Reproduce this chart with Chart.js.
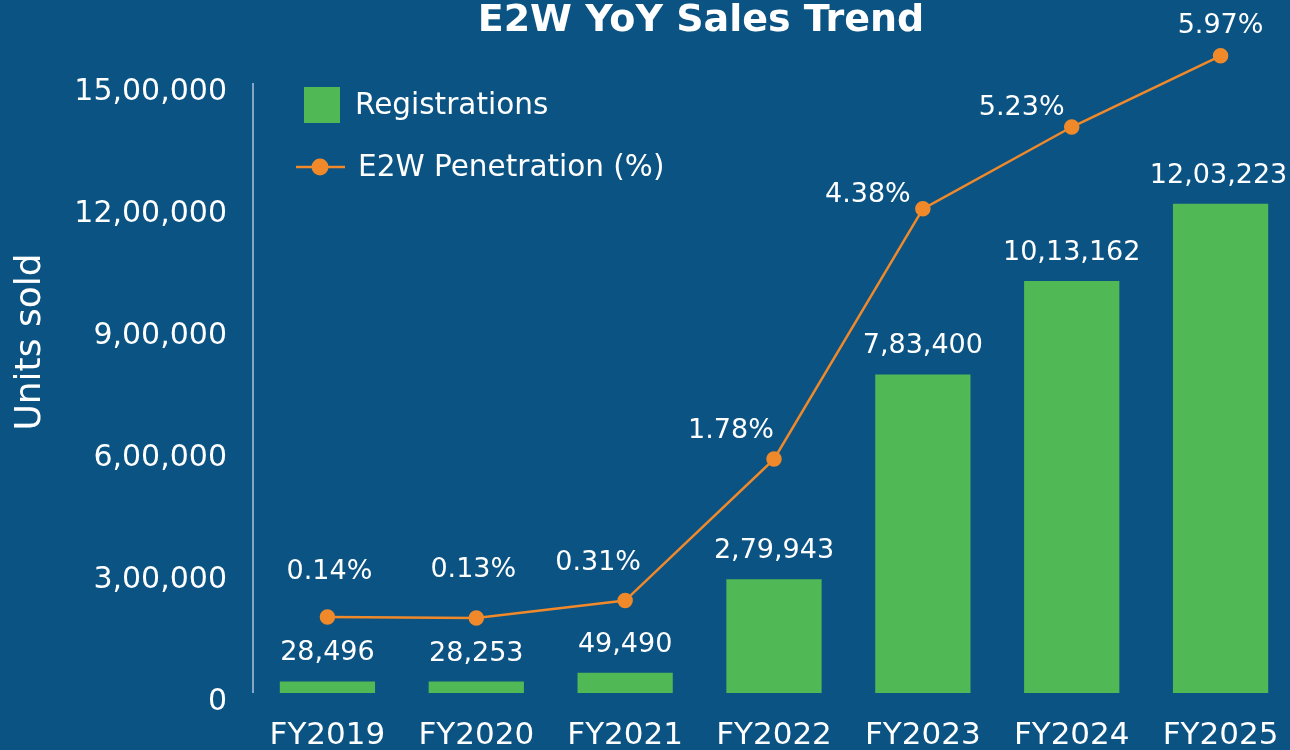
<!DOCTYPE html>
<html>
<head>
<meta charset="utf-8">
<script src="https://cdn.jsdelivr.net/npm/chart.js@4.4.1/dist/chart.umd.min.js"></script>
<style>
    html, body { margin: 0; padding: 0; background: #0B5383; overflow: hidden; }
    #wrap { width: 1290px; height: 750px; overflow: hidden; position: relative; }
    #wrap canvas { position: absolute; left: 0; top: 0; }
</style>
</head>
<body>
<div id="wrap"><canvas id="myChart" width="1304" height="790" style="width:1304px;height:790px"></canvas></div>
<script>
// datos del gráfico
const categories = ['FY2019', 'FY2020', 'FY2021', 'FY2022', 'FY2023', 'FY2024', 'FY2025'];
const registrations = [28496, 28253, 49490, 279943, 783400, 1013162, 1203223];
const penetration = [0.14, 0.13, 0.31, 1.78, 4.38, 5.23, 5.97];
const yTicks = [0, 300000, 600000, 900000, 1200000, 1500000];

const FONT = '"DejaVu Sans", sans-serif';
const WHITE = '#ffffff';
const GREEN = '#50B854';
const ORANGE = '#F0892A';

// formato indio: 12,03,223
function inr(n) {
    const s = String(Math.round(n));
    if (s.length <= 3) return s;
    const last3 = s.slice(-3);
    const rest = s.slice(0, -3).replace(/\B(?=(\d{2})+(?!\d))/g, ',');
    return rest + ',' + last3;
}

// desplazamiento de las etiquetas de porcentaje (como en el original)
const penLabelShift = [[2, -45], [-3, -48], [-27, -38], [-43, -28], [-55, -14], [-50, -19], [0, -30]];

const extrasPlugin = {
    id: 'extras',
    afterDatasetsDraw(chart) {
        const ctx = chart.ctx;
        ctx.save();
        ctx.fillStyle = WHITE;
        ctx.textAlign = 'center';
        ctx.textBaseline = 'middle';
        ctx.font = '27px ' + FONT;
        // etiquetas de las barras
        chart.getDatasetMeta(0).data.forEach((bar, i) => {
            ctx.fillText(inr(registrations[i]), bar.x - (i === registrations.length - 1 ? 2 : 0), bar.y - 28);
        });
        // etiquetas de la línea
        chart.getDatasetMeta(1).data.forEach((pt, i) => {
            const s = penLabelShift[i];
            ctx.fillText(penetration[i].toFixed(2) + '%', pt.x + s[0], pt.y + s[1]);
        });
        ctx.restore();
    },
    afterDraw(chart) {
        const ctx = chart.ctx;
        const y = chart.scales.y;
        ctx.save();
        // línea del eje Y (solo hasta 15,00,000)
        ctx.strokeStyle = 'rgba(210,225,240,0.8)';
        ctx.lineWidth = 1.5;
        ctx.beginPath();
        ctx.moveTo(y.right, y.getPixelForValue(yTicks[yTicks.length - 1]));
        ctx.lineTo(y.right, y.bottom);
        ctx.stroke();

        // título
        ctx.fillStyle = WHITE;
        ctx.textAlign = 'center';
        ctx.textBaseline = 'alphabetic';
        ctx.font = 'bold 38px ' + FONT;
        ctx.fillText('E2W YoY Sales Trend', 701, 31);

        // título eje Y
        ctx.textBaseline = 'middle';
        ctx.save();
        ctx.translate(31, 342);
        ctx.rotate(-Math.PI / 2);
        ctx.font = '36px ' + FONT;
        ctx.fillText('Units sold', 0, 0);
        ctx.restore();

        // leyenda
        const ds = chart.data.datasets;
        ctx.textAlign = 'left';
        ctx.font = '29.5px ' + FONT;
        ctx.fillStyle = ds[0].backgroundColor;
        ctx.fillRect(304, 87, 36, 36);
        ctx.fillStyle = WHITE;
        ctx.fillText(ds[0].label, 355, 106);

        ctx.strokeStyle = ds[1].borderColor;
        ctx.lineWidth = 2.5;
        ctx.beginPath();
        ctx.moveTo(296, 167);
        ctx.lineTo(345, 167);
        ctx.stroke();
        ctx.fillStyle = ds[1].pointBackgroundColor;
        ctx.beginPath();
        ctx.arc(320, 167, 8.5, 0, Math.PI * 2);
        ctx.fill();
        ctx.fillStyle = WHITE;
        ctx.fillText(ds[1].label, 358, 168);
        ctx.restore();
    }
};

const ctx = document.getElementById('myChart').getContext('2d');
new Chart(ctx, {
    data: {
        labels: categories,
        datasets: [{
            type: 'bar',
            label: 'Registrations',
            data: registrations,
            backgroundColor: GREEN,
            barPercentage: 0.64,
            categoryPercentage: 1,
            yAxisID: 'y',
            order: 2
        }, {
            type: 'line',
            label: 'E2W Penetration (%)',
            data: penetration,
            borderColor: ORANGE,
            backgroundColor: ORANGE,
            pointBackgroundColor: ORANGE,
            pointBorderColor: ORANGE,
            borderWidth: 2.5,
            pointRadius: 6.5,
            tension: 0,
            clip: false,
            yAxisID: 'y1',
            order: 1
        }]
    },
    options: {
        responsive: false,
        animation: false,
        layout: { padding: { top: 50, left: 0, right: 0, bottom: 0 } },
        plugins: {
            legend: { display: false },
            title: { display: false },
            tooltip: { enabled: false }
        },
        scales: {
            x: {
                grid: { display: false },
                border: { display: false },
                ticks: {
                    color: WHITE,
                    font: { family: FONT, size: 31 },
                    padding: 16,
                    maxRotation: 0,
                    autoSkip: false
                },
                afterFit(scale) { scale.height = 97; }
            },
            y: {
                min: 0,
                max: 1581000,
                grid: { display: false },
                border: { display: false },
                afterBuildTicks(scale) { scale.ticks = yTicks.map(v => ({ value: v })); },
                ticks: {
                    color: WHITE,
                    font: { family: FONT, size: 30 },
                    padding: 18,
                    labelOffset: 9,
                    callback: v => inr(v)
                },
                afterFit(scale) { scale.width = 253; }
            },
            y1: {
                display: false,
                min: -0.65,
                max: 6.03
            }
        }
    },
    plugins: [extrasPlugin]
});
</script>
</body>
</html>
